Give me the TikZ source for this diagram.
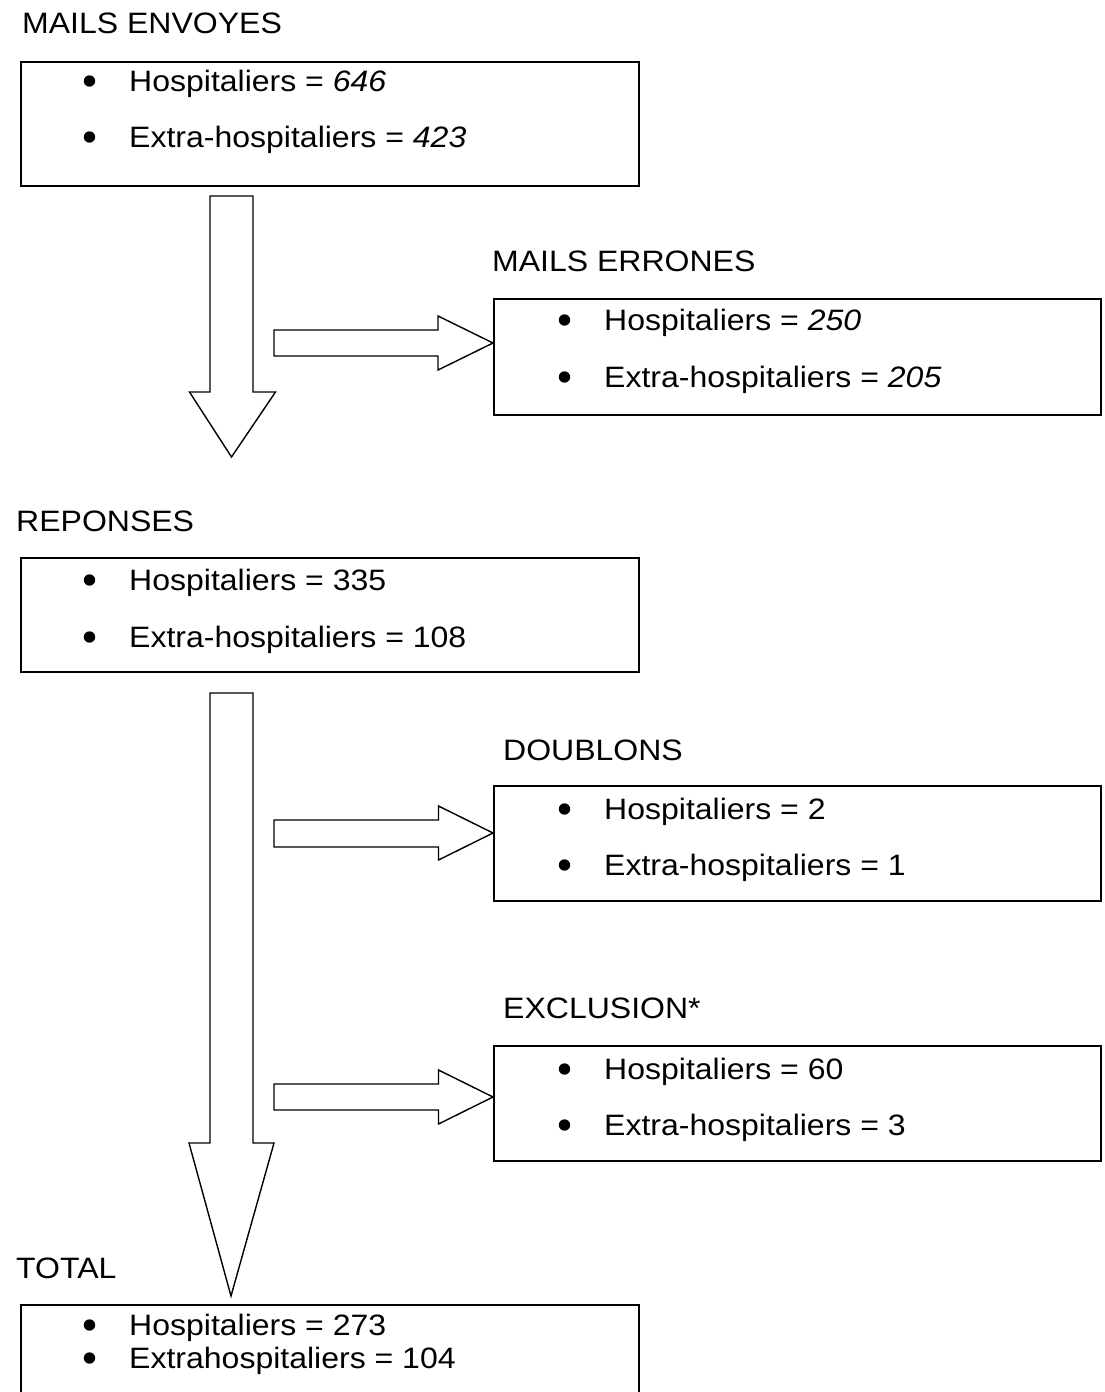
\documentclass[tikz,border=0pt]{standalone}
\usepackage{fontspec}
\setmainfont{Liberation Sans}[FakeStretch=1.085]
\begin{document}
\begin{tikzpicture}[x=1pt,y=-1pt,
  boxframe/.style={draw=black,line width=1.8pt,rectangle,anchor=north west,inner sep=0pt},
  blockarrow/.style={draw=black,line width=1.4pt,fill=white,line join=miter},
  txt/.style={anchor=base west,inner sep=0pt,font=\fontsize{29.5}{36}\selectfont},
  dot/.style={fill=black}]
\useasboundingbox (0,0) rectangle (1104,1392);
\clip (0,0) rectangle (1104,1392);

% ---------- boxes ----------
\node[boxframe,minimum width=618pt,minimum height=124pt] (envoyes) at (20,61) {};
\node[boxframe,minimum width=607pt,minimum height=116pt] (errones) at (493,298) {};
\node[boxframe,minimum width=618pt,minimum height=114pt] (reponses) at (20,557) {};
\node[boxframe,minimum width=607pt,minimum height=115pt] (doublons) at (493,785) {};
\node[boxframe,minimum width=607pt,minimum height=115pt] (exclusion) at (493,1045) {};
\node[boxframe,minimum width=618pt,minimum height=120pt] (total) at (20,1304) {};

% ---------- titles ----------
\node[txt] (tEnv) at (22,33) {MAILS ENVOYES};
\node[txt] (tErr) at (492,271) {MAILS ERRONES};
\node[txt] (tRep) at (16,531) {REPONSES};
\node[txt] (tDou) at (503,760) {DOUBLONS};
\node[txt] (tExc) at (503,1018) {EXCLUSION*};
\node[txt] (tTot) at (16,1278) {TOTAL};

% ---------- box contents ----------
\node[txt] (e1) at (129,91) {Hospitaliers = \textit{646}};
\node[txt] (e2) at (129,147) {Extra-hospitaliers = \textit{423}};
\node[txt] (r1) at (604,330) {Hospitaliers = \textit{250}};
\node[txt] (r2) at (604,387) {Extra-hospitaliers = \textit{205}};
\node[txt] (p1) at (129,590) {Hospitaliers = 335};
\node[txt] (p2) at (129,647) {Extra-hospitaliers = 108};
\node[txt] (d1) at (604,819) {Hospitaliers = 2};
\node[txt] (d2) at (604,875) {Extra-hospitaliers = 1};
\node[txt] (x1) at (604,1079) {Hospitaliers = 60};
\node[txt] (x2) at (604,1135) {Extra-hospitaliers = 3};
\node[txt] (o1) at (129,1335) {Hospitaliers = 273};
\node[txt] (o2) at (129,1368) {Extrahospitaliers = 104};

% ---------- bullets ----------
\foreach \yy in {81,137,580,637,1325,1358} \fill[dot] (89.5,\yy) circle (5.7pt);
\foreach \yy in {320,377,809,865,1069,1125} \fill[dot] (564.5,\yy) circle (5.7pt);

% ---------- block arrows ----------
\coordinate (tipA) at (231.5,457);
\coordinate (tipB) at ([yshift=8pt]total.north -| 231,0);
\draw[blockarrow] (210,196) -- (253,196) -- (253,392) -- (275.5,392) -- (tipA)
  -- (189.5,392) -- (210,392) -- cycle;
\draw[blockarrow] (274,330) -- (438,330) -- (438,316) -- (errones.west |- 0,343) -- (438,370)
  -- (438,356) -- (274,356) -- cycle;
\draw[blockarrow] (210,693) -- (253,693) -- (253,1143) -- (274,1143) -- (tipB)
  -- (189,1143) -- (210,1143) -- cycle;
\draw[blockarrow] (274,820) -- (438.5,820) -- (438.5,806) -- (doublons.west |- 0,833) -- (438.5,860)
  -- (438.5,847) -- (274,847) -- cycle;
\draw[blockarrow] (274,1084) -- (438.5,1084) -- (438.5,1070) -- (exclusion.west |- 0,1097) -- (438.5,1124)
  -- (438.5,1110) -- (274,1110) -- cycle;
\end{tikzpicture}
\end{document}
